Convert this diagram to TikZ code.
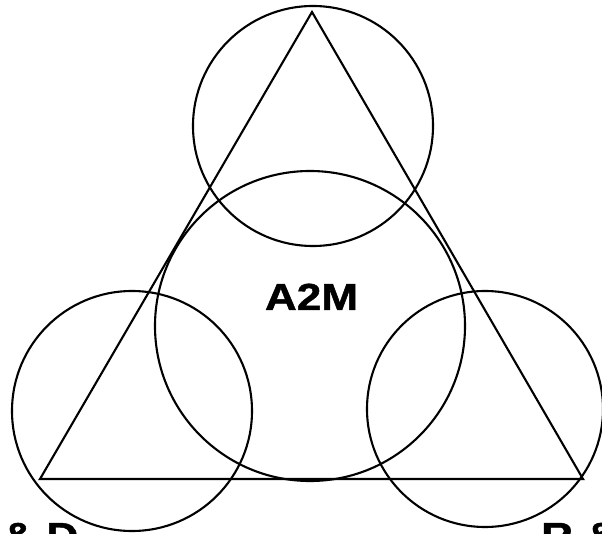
\documentclass[tikz,border=0pt]{standalone}
\usepackage{fontspec}
\setmainfont{Liberation Sans}[BoldFeatures={FakeBold=1.2}]
\begin{document}
\begin{tikzpicture}[x=1pt,y=-1pt,
  ln/.style={line width=2.1pt,black},
  lbl/.style={font=\fontsize{37.7}{40}\selectfont\bfseries,inner sep=0pt,xscale=1.17}]
\useasboundingbox (0,0) rectangle (602,534);
\clip (0,0) rectangle (602,534);
\fill[white] (0,0) rectangle (602,534);
\coordinate (apex) at (312,12);
\coordinate (bl) at (40,479);
\coordinate (br) at (583,479);
\draw[ln,line join=miter] (apex) -- (bl) -- (br) -- cycle;
\draw[ln] (313,126) circle (120);
\draw[ln] (310,326) circle (155);
\draw[ln] (132,411) circle (120);
\draw[ln] (485,409) circle (118);
\node[lbl,anchor=base] (a2m) at (311.5,310) {A2M};
\node[lbl,anchor=base west] (rd) at (-42,549) {R \& D};
\node[lbl,anchor=base west] (rs) at (541,549) {R \&};
\end{tikzpicture}
\end{document}
